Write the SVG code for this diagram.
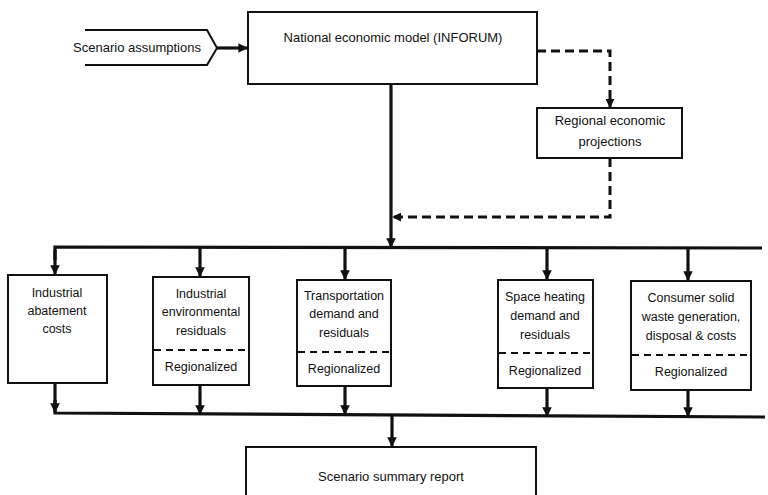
<svg xmlns="http://www.w3.org/2000/svg" width="768" height="495" viewBox="0 0 768 495">
<style>
.box{fill:#fff;stroke:#111;stroke-width:2}
.t{font-family:"Liberation Sans",Arial,sans-serif;font-size:13px;fill:#111;text-anchor:middle}
.s{font-size:12.5px}
.bus{fill:none;stroke:#111;stroke-width:3.2}
.dash{fill:none;stroke:#111;stroke-width:3;stroke-dasharray:9,5}
.sep{stroke:#111;stroke-width:1.8;stroke-dasharray:7,5}
</style>
<defs>
<marker id="ah" viewBox="0 0 10 10" refX="9" refY="5" markerWidth="3" markerHeight="3" orient="auto" markerUnits="strokeWidth">
<path d="M0,0 L10,5 L0,10 z" fill="#111"/>
</marker>
</defs>
<rect width="768" height="495" fill="#fff"/>
<g id="scenario-assumptions">
<path d="M85,30 L207,30 L217,48 L207,65 L85,65" fill="none" stroke="#111" stroke-width="2"/>
<text class="t" x="137" y="52">Scenario assumptions</text>
</g>
<g id="national-model">
<rect class="box" x="248" y="12" width="289" height="72"/>
<text class="t" x="393" y="42">National economic model (INFORUM)</text>
</g>
<g id="regional-projections">
<rect class="box" x="537" y="108" width="145" height="50"/>
<text class="t" x="610" y="125">Regional economic</text>
<text class="t" x="610" y="146">projections</text>
</g>
<g id="industrial-abatement">
<rect class="box" x="8" y="275" width="99" height="108"/>
<text class="t s" x="57" y="297">Industrial</text>
<text class="t s" x="57" y="315">abatement</text>
<text class="t s" x="57" y="333">costs</text>
</g>
<g id="industrial-residuals">
<rect class="box" x="153" y="277" width="96" height="108"/>
<text class="t s" x="201" y="298">Industrial</text>
<text class="t s" x="201" y="316">environmental</text>
<text class="t s" x="201" y="335">residuals</text>
<line class="sep" x1="154" y1="350" x2="248" y2="350"/>
<text class="t s" x="201" y="371">Regionalized</text>
</g>
<g id="transportation">
<rect class="box" x="297" y="280" width="94" height="106"/>
<text class="t s" x="344" y="300">Transportation</text>
<text class="t s" x="344" y="318">demand and</text>
<text class="t s" x="344" y="337">residuals</text>
<line class="sep" x1="298" y1="352" x2="390" y2="352"/>
<text class="t s" x="344" y="373">Regionalized</text>
</g>
<g id="space-heating">
<rect class="box" x="498" y="280" width="95" height="108"/>
<text class="t s" x="545" y="301">Space heating</text>
<text class="t s" x="545" y="320">demand and</text>
<text class="t s" x="545" y="339">residuals</text>
<line class="sep" x1="499" y1="353" x2="592" y2="353"/>
<text class="t s" x="545" y="375">Regionalized</text>
</g>
<g id="consumer-waste">
<rect class="box" x="631" y="281" width="120" height="109"/>
<text class="t s" x="691" y="302">Consumer solid</text>
<text class="t s" x="691" y="321">waste generation,</text>
<text class="t s" x="691" y="340">disposal &amp; costs</text>
<line class="sep" x1="632" y1="355" x2="750" y2="355"/>
<text class="t s" x="691" y="376">Regionalized</text>
</g>
<g id="summary-report">
<rect class="box" x="246" y="447" width="290" height="60"/>
<text class="t" x="391" y="481">Scenario summary report</text>
</g>
<g id="connectors">
<line class="bus" x1="217" y1="48" x2="247" y2="48" marker-end="url(#ah)"/>
<line class="bus" x1="391" y1="84" x2="391" y2="247" marker-end="url(#ah)"/>
<path class="dash" d="M537,51 L610,51 L610,107" marker-end="url(#ah)"/>
<path class="dash" d="M610,158 L610,217 L393,217" marker-end="url(#ah)"/>
<path class="bus" d="M55,260 L55,247 L762,248"/>
<line class="bus" x1="55" y1="250" x2="55" y2="274" marker-end="url(#ah)"/>
<line class="bus" x1="200" y1="247" x2="200" y2="276" marker-end="url(#ah)"/>
<line class="bus" x1="345" y1="247" x2="345" y2="279" marker-end="url(#ah)"/>
<line class="bus" x1="547" y1="248" x2="547" y2="279" marker-end="url(#ah)"/>
<line class="bus" x1="688" y1="248" x2="688" y2="280" marker-end="url(#ah)"/>
<path class="bus" d="M55,400 L55,413 L765,417"/>
<line class="bus" x1="55" y1="383" x2="55" y2="412" marker-end="url(#ah)"/>
<line class="bus" x1="200" y1="385" x2="200" y2="414" marker-end="url(#ah)"/>
<line class="bus" x1="345" y1="386" x2="345" y2="414" marker-end="url(#ah)"/>
<line class="bus" x1="547" y1="388" x2="547" y2="416" marker-end="url(#ah)"/>
<line class="bus" x1="688" y1="390" x2="688" y2="416" marker-end="url(#ah)"/>
<line class="bus" x1="392" y1="415" x2="392" y2="446" marker-end="url(#ah)"/>
</g>
</svg>
